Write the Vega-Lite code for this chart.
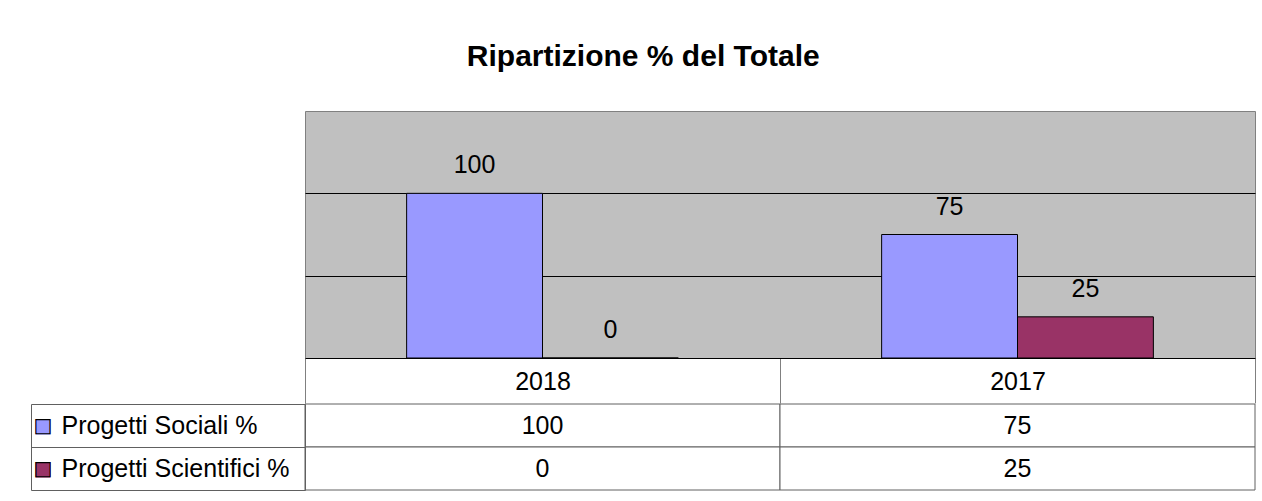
{
  "$schema": "https://vega.github.io/schema/vega-lite/v6.json",
  "background": "white",
  "padding": {"top": 41, "left": 30, "right": 8, "bottom": 13},
  "title": {"text": "Ripartizione % del Totale", "fontSize": 30, "fontWeight": "bold", "font": "Liberation Sans", "color": "black", "anchor": "middle", "offset": 39},
  "data": {"values": [
    {"year": "2018", "series": "Progetti Sociali %", "value": 100},
    {"year": "2018", "series": "Progetti Scientifici %", "value": 0},
    {"year": "2017", "series": "Progetti Sociali %", "value": 75},
    {"year": "2017", "series": "Progetti Scientifici %", "value": 25}
  ]},
  "columns": 1,
  "align": "each",
  "spacing": -13,
  "bounds": "full",
  "concat": [
    {
      "width": 950,
      "height": 247,
      "view": {"fill": "#C0C0C0", "stroke": "#808080"},
      "encoding": {
        "x": {"field": "year", "type": "nominal", "sort": ["2018", "2017"], "scale": {"paddingInner": 0, "paddingOuter": 0},
          "axis": {"title": null, "orient": "bottom", "labelFontSize": 25, "labelFont": "Liberation Sans", "labelColor": "black", "labelAngle": 0, "tickBand": "extent", "tickExtra": true, "tickSize": 45, "tickColor": "#808080", "tickWidth": 1, "domainColor": "black", "domainWidth": 1, "labelPadding": -22, "labelBaseline": "middle"}},
        "xOffset": {"field": "series", "type": "nominal", "sort": ["Progetti Sociali %", "Progetti Scientifici %"], "scale": {"paddingInner": 0, "paddingOuter": 0.748}},
        "y": {"field": "value", "type": "quantitative", "scale": {"domain": [0, 150], "nice": false},
          "axis": {"title": null, "labels": false, "ticks": false, "domain": false, "grid": true, "values": [50, 100], "gridColor": "black", "gridWidth": 1, "gridOpacity": 1}}
      },
      "layer": [
        {"mark": {"type": "bar", "stroke": "black", "strokeWidth": 1},
         "encoding": {"color": {"field": "series", "type": "nominal", "sort": ["Progetti Sociali %", "Progetti Scientifici %"], "scale": {"range": ["#9999FF", "#993366"]}, "legend": null}}},
        {"mark": {"type": "text", "baseline": "alphabetic", "dy": -20, "fontSize": 25, "font": "Liberation Sans", "color": "black"},
         "encoding": {"text": {"field": "value", "type": "quantitative"}}}
      ]
    },
    {
      "width": 950,
      "height": 86,
      "view": {"stroke": null},
      "encoding": {
        "x": {"field": "year", "type": "nominal", "sort": ["2018", "2017"], "scale": {"paddingInner": 0, "paddingOuter": 0}, "axis": null}
      },
      "layer": [
        {"mark": {"type": "rect", "fill": "white", "stroke": "#606060", "strokeWidth": 1},
         "encoding": {"y": {"field": "series", "type": "nominal", "sort": ["Progetti Sociali %", "Progetti Scientifici %"], "scale": {"paddingInner": 0, "paddingOuter": 0},
           "axis": {"title": null, "orient": "left", "domain": true, "domainColor": "#606060", "ticks": true, "tickBand": "extent", "tickExtra": true, "tickSize": 274, "tickColor": "#606060", "tickWidth": 1, "labelAlign": "left", "labelPadding": -30, "labelFontSize": 25, "labelFont": "Liberation Sans", "labelColor": "black", "labelLimit": 400}}}},
        {"mark": {"type": "text", "fontSize": 25, "font": "Liberation Sans", "baseline": "middle", "color": "black"},
         "encoding": {"text": {"field": "value", "type": "quantitative"},
           "y": {"field": "series", "type": "nominal", "sort": ["Progetti Sociali %", "Progetti Scientifici %"], "scale": {"paddingInner": 0, "paddingOuter": 0},
             "axis": {"title": null, "orient": "left", "offset": 274, "domain": true, "domainColor": "#606060", "domainWidth": 1, "ticks": false, "labelExpr": "'■'", "labelAlign": "left", "labelPadding": -2, "labelFont": "DejaVu Sans", "labelFontSize": 20,
               "labelColor": {"condition": {"test": "datum.value === 'Progetti Sociali %'", "value": "#9999FF"}, "value": "#993366"}}}}},
        {"mark": {"type": "rect", "opacity": 0},
         "encoding": {"y": {"field": "series", "type": "nominal", "sort": ["Progetti Sociali %", "Progetti Scientifici %"], "scale": {"paddingInner": 0, "paddingOuter": 0},
           "axis": {"title": null, "orient": "left", "offset": 274, "domain": false, "ticks": false, "labelExpr": "'□'", "labelAlign": "left", "labelPadding": -2, "labelFont": "DejaVu Sans", "labelFontSize": 20, "labelColor": "black"}}}}
      ],
      "resolve": {"axis": {"y": "independent"}}
    }
  ]
}
